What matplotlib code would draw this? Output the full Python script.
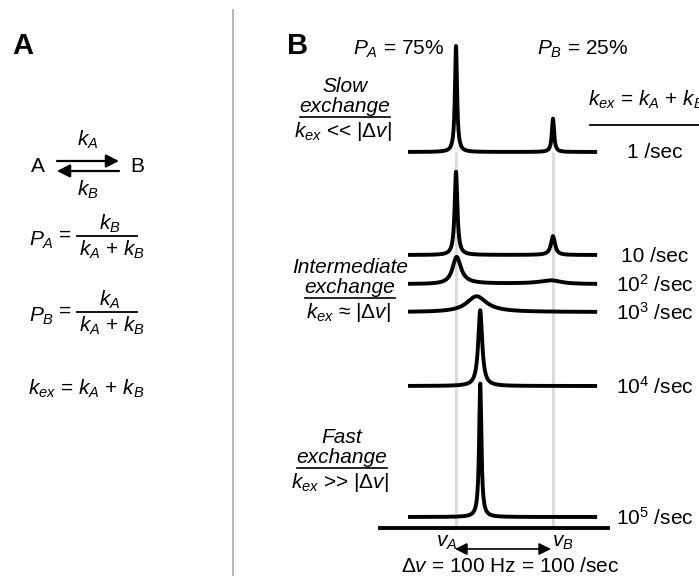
import numpy as np
import matplotlib
matplotlib.use('Agg')
import matplotlib.pyplot as plt
from matplotlib.lines import Line2D
from matplotlib.patches import FancyArrowPatch

plt.rcParams['font.family'] = ['Liberation Sans', 'DejaVu Sans']
plt.rcParams['mathtext.fontset'] = 'custom'
plt.rcParams['mathtext.rm'] = 'Liberation Sans'
plt.rcParams['mathtext.it'] = 'Liberation Sans:italic'
plt.rcParams['mathtext.bf'] = 'Liberation Sans:bold'

# two-site exchange parameters
kex_rates = [1, 10, 1e2, 1e3, 1e4, 1e5]          # 1/s
rate_labels = ['1 /sec', '10 /sec', '10$^{2}$ /sec', '10$^{3}$ /sec',
               '10$^{4}$ /sec', '10$^{5}$ /sec']
pop_a = 0.75
pop_b = 0.25
nu_a = 0.0      # Hz
nu_b = 100.0    # Hz
r2 = 8.0        # intrinsic relaxation rate (1/s), estimated from peak heights

W, H = 699, 576
fig = plt.figure(figsize=(W / 100, H / 100), dpi=100)


def fx(px):
    return px / W


def fy(py):
    return 1 - py / H


def txt(x, y, s, size=15, **kw):
    return fig.text(fx(x), fy(y), s, size=size, **kw)


def hline(x0, x1, y, lw=1.3, color='k'):
    fig.add_artist(Line2D([fx(x0), fx(x1)], [fy(y), fy(y)], lw=lw, color=color,
                          transform=fig.transFigure))


def arrow(x0, y0, x1, y1, style, lw, ms):
    fig.add_artist(FancyArrowPatch((fx(x0), fy(y0)), (fx(x1), fy(y1)),
                                   transform=fig.transFigure, arrowstyle=style,
                                   mutation_scale=ms, lw=lw, color='k',
                                   shrinkA=0, shrinkB=0))


def lineshape(nu, kex):
    # Bloch-McConnell two-site exchange spectrum
    ka = pop_b * kex   # A -> B
    kb = pop_a * kex   # B -> A
    w = 2 * np.pi * nu
    a = 1j * (w - 2 * np.pi * nu_a) + r2 + ka
    b = 1j * (w - 2 * np.pi * nu_b) + r2 + kb
    det = a * b - ka * kb
    return np.real((b * pop_a + kb * pop_b + ka * pop_a + a * pop_b) / det)


# ---- panel divider
fig.add_artist(Line2D([fx(233), fx(233)], [fy(10), 0], lw=1.2, color='#a8a8a8',
                      transform=fig.transFigure))

# ---- panel A
txt(12, 54, 'A', size=21, weight='bold')
txt(38, 166, 'A', ha='center', va='center')
txt(137, 166, 'B', ha='center', va='center')
arrow(57, 161, 119, 161, '-|>,head_length=0.55,head_width=0.28', 1.6, 14)
arrow(119, 171, 57, 171, '-|>,head_length=0.55,head_width=0.28', 1.6, 14)
txt(88, 140, '$k_A$', ha='center', va='center')
txt(88, 190, '$k_B$', ha='center', va='center')

for row_y, lbl, num in [(236, '$P_A$', '$k_B$'), (312, '$P_B$', '$k_A$')]:
    txt(29, row_y + 10, lbl, va='baseline')
    txt(65, row_y + 5, '=', ha='center', va='baseline')
    hline(77, 137, row_y, lw=1.3)
    txt(110, row_y - 6, num, ha='center', va='baseline')
    txt(112, row_y + 20, '$k_A$ + $k_B$', ha='center', va='baseline')

txt(28, 395, '$k_{ex}$ = $k_A$ + $k_B$', va='baseline')

# ---- panel B labels
txt(287, 54, 'B', size=21, weight='bold')
txt(353, 55, '$P_A$ = 75%', va='baseline')
txt(537, 55, '$P_B$ = 25%', va='baseline')
txt(588, 106, '$k_{ex}$ = $k_A$ + $k_B$', va='baseline')
hline(590, 700, 125, lw=1.3)

for base_y, lbl in zip([152, 255, 284, 312, 386, 517], rate_labels):
    txt(655, base_y + 1, lbl, ha='center', va='center')

desc = [
    (345, 92, 'Slow', '$k_{ex}$ << |$\\mathit{Δv}$|'),
    (350, 273, 'Intermediate', '$k_{ex}$ ≈ |$\\mathit{Δv}$|'),
    (342, 443, 'Fast', '$k_{ex}$ >> |$\\mathit{Δv}$|'),
]
ex_labels = []
for cx, by, head, rel in desc:
    txt(cx, by, head, ha='center', va='baseline', style='italic')
    ex = txt(cx, by + 20, 'exchange', ha='center', va='baseline', style='italic')
    ex_labels.append((ex, by + 25))
    txt(cx - 2, by + 45, rel, ha='center', va='baseline')

fig.canvas.draw()
for ex, uy in ex_labels:
    bb = ex.get_window_extent()
    hline(bb.x0, bb.x1, uy, lw=1.2)

txt(447, 547, '$v_A$', ha='center', va='baseline')
txt(563, 547, '$v_B$', ha='center', va='baseline')
arrow(455, 549, 551, 549, '<|-|>,head_length=0.6,head_width=0.3', 1.2, 12)
txt(510, 572, '$Δv$ = 100 Hz = 100 /sec', ha='center', va='baseline')

# ---- spectra
px_per_hz = 0.97
x_left, x_right = 370, 620
ax = fig.add_axes([fx(x_left), 0, fx(x_right) - fx(x_left), 1])
ax.set_xlim((x_left - 456) / px_per_hz, (x_right - 456) / px_per_hz)
ax.set_ylim(0, H)
ax.axis('off')

trace_base = [424, 321, 292, 264, 190, 59]
peak_scale = 1166
nu = np.linspace(-49.5, 145.5, 40001)

ax.vlines([nu_a, nu_b], 48, trace_base[0], color='#dcdcdc', lw=2.2, zorder=1)
for kex, base in zip(kex_rates, trace_base):
    ax.plot(nu, base + peak_scale * lineshape(nu, kex), color='k', lw=2.8,
            solid_joinstyle='round', solid_capstyle='butt', zorder=3)
ax.plot([-78, 157], [48, 48], color='k', lw=2.8, zorder=3)

fig.savefig('out.png', dpi=100)
